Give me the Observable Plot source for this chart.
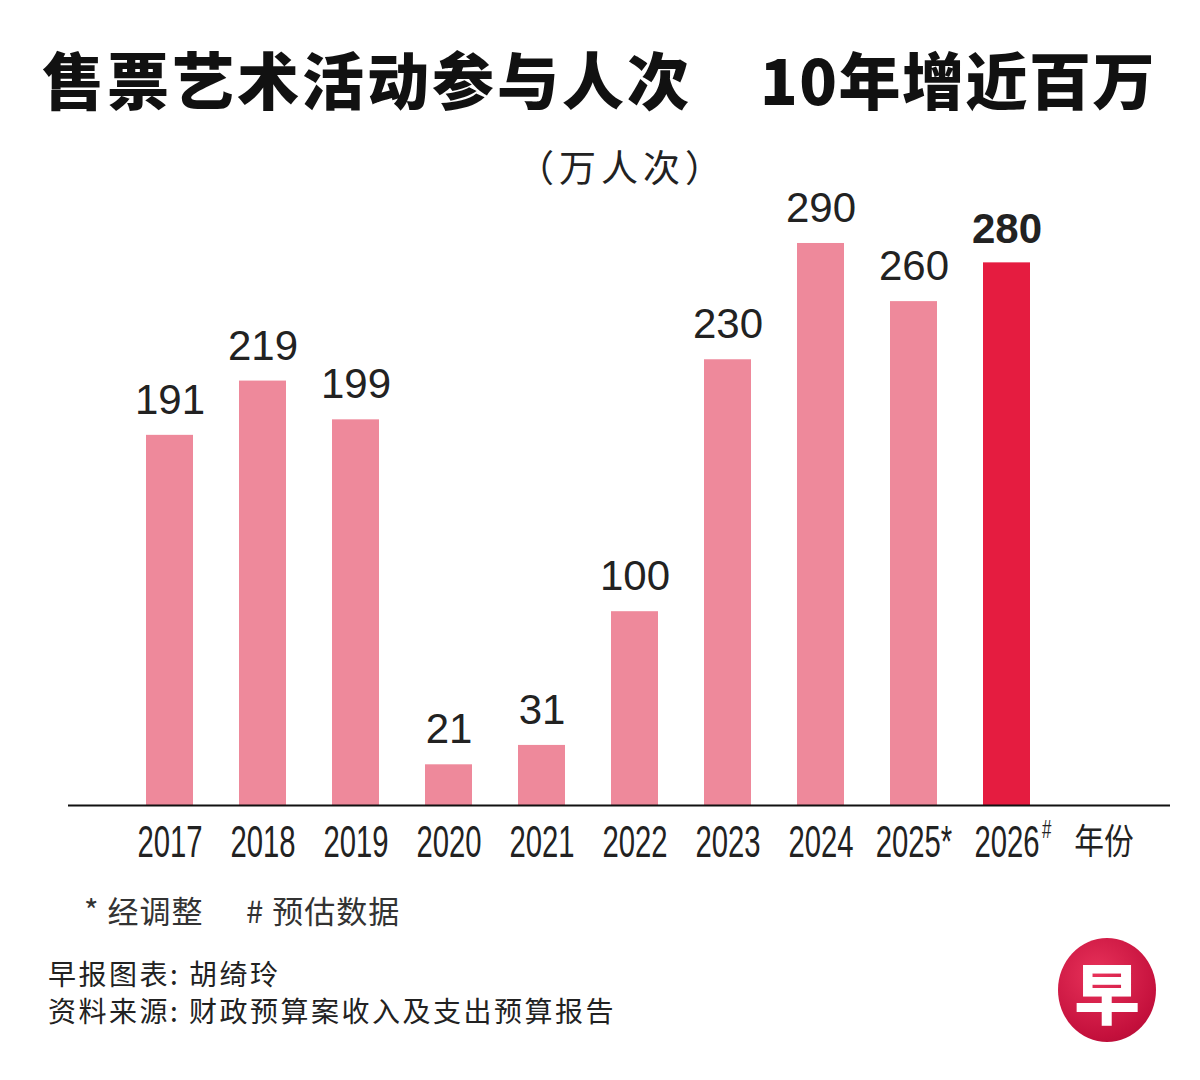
<!DOCTYPE html>
<html><head><meta charset="utf-8">
<script src="https://cdn.jsdelivr.net/npm/d3@7"></script>
<script src="https://cdn.jsdelivr.net/npm/@observablehq/plot@0.6"></script>
<style>
html,body{margin:0;padding:0;background:#fff;}
#page{position:relative;width:1200px;height:1080px;overflow:hidden;background:#fff;font-family:"Noto Sans CJK SC",sans-serif;color:#222;}
.t{position:absolute;top:33px;font-size:62px;font-weight:900;line-height:90px;color:#111;white-space:pre;}
#t1{left:42px;letter-spacing:3px;}
#t2{left:760px;letter-spacing:1.5px;}
#unit{position:absolute;left:0;top:141px;width:1244px;text-align:center;font-size:37px;line-height:50px;color:#222;letter-spacing:5px;}
#chart{position:absolute;left:0;top:160px;}
.note{position:absolute;top:888px;font-size:31px;line-height:44px;color:#333;white-space:pre;letter-spacing:1px;}
#n1{left:84px;}
#n2{left:246px;}
#credit{position:absolute;left:48px;top:955px;font-size:28px;line-height:37px;color:#222;letter-spacing:2.5px;white-space:pre;}
#logo{position:absolute;left:1058px;top:938px;width:98px;height:104px;border-radius:50%;background:radial-gradient(circle at 40% 35%,#e8325a,#c4103c 70%,#a80a32);color:#fff;font-size:66px;font-weight:900;text-align:center;line-height:104px;}
</style></head>
<body><div id="page">
<div class="t" id="t1">售票艺术活动参与人次</div>
<div class="t" id="t2">10年增近百万</div>
<div id="unit">（万人次）</div>
<div id="chart"></div>
<div class="note" id="n1">* 经调整</div>
<div class="note" id="n2"># 预估数据</div>
<div id="credit">早报图表: 胡绮玲<br>资料来源: 财政预算案收入及支出预算报告</div>
<div id="logo">早</div>
</div>
<script>
const years = ["2017","2018","2019","2020","2021","2022","2023","2024","2025","2026"];
const values = [191,219,199,21,31,100,230,290,260,280];
const tickLabels = ["2017","2018","2019","2020","2021","2022","2023","2024","2025*","2026","年份"];
const highlight = "2026";
const superscripts = [{year:"2026", sup:"#"}];
const axisTitle = "年份";

const data = years.map((y,i)=>({year:y, value:values[i], label:tickLabels[i]}));
const domain = [...years, axisTitle];
const ticks = domain.map((d,i)=>({year:d, label:tickLabels[i]}));

const pink = "#ee899b", red = "#e51c40";
const base = 645;
const chart = Plot.plot({
  width: 1200,
  height: 720,
  marginLeft: 68, marginRight: 30, marginTop: 0, marginBottom: 75,
  x: {domain, range:[97,1171], paddingInner:0.5, paddingOuter:0.5, axis:null},
  y: {domain:[0,300], range:[base, base-300*1.938], axis:null},
  marks: [
    Plot.barY(data, {x:"year", y:"value", fill:d=>d.year===highlight?red:pink}),
    Plot.ruleY([0], {stroke:"#111", strokeWidth:2}),
    Plot.text(data.filter(d=>d.year!==highlight), {x:"year", y:"value", text:d=>String(d.value), dy:-35, fontSize:42, fill:"#222", fontFamily:"Liberation Sans, Arial, sans-serif"}),
    Plot.text(data.filter(d=>d.year===highlight), {x:"year", y:"value", text:d=>String(d.value), dy:-33, fontSize:42, fontWeight:"bold", fill:"#222", fontFamily:"Liberation Sans, Arial, sans-serif"}),
    Plot.text(ticks.filter(d=>d.year!==axisTitle), {x:"year", y:0, text:"label", dy:37, fontSize:45, fill:"#222", fontFamily:"Liberation Sans, sans-serif", className:"narrow"}),
    Plot.text(ticks.filter(d=>d.year===axisTitle), {x:"year", y:0, text:"label", dy:37, dx:4, fontSize:35, fill:"#222", fontFamily:"Noto Sans CJK SC, sans-serif", className:"narrowcjk"}),
    Plot.text(superscripts, {x:"year", y:0, text:"sup", dx:35, dy:24, textAnchor:"start", fontSize:26, fill:"#222", fontFamily:"Liberation Sans, sans-serif", className:"narrow"})
  ]
});
document.getElementById("chart").appendChild(chart);
function condense(sel, k){
  chart.querySelectorAll(sel + " text").forEach(t=>{
    const len = t.getComputedTextLength();
    t.setAttribute("textLength", (len*k).toFixed(1));
    t.setAttribute("lengthAdjust", "spacingAndGlyphs");
  });
}
condense("g.narrow", 0.65);
condense("g.narrowcjk", 0.85);
</script>
</body></html>
